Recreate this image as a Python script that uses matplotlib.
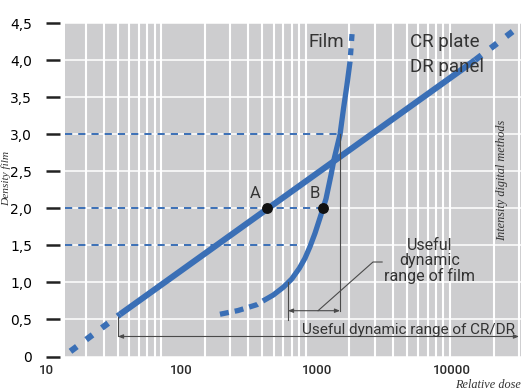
"""Characteristic curves: film versus CR plate / DR panel.

Optical density over relative dose (log scale) for conventional film and
for the digital detectors, with the useful dynamic range of each marked.

Output: ``out.png``.
"""

from __future__ import annotations

import matplotlib

matplotlib.use("Agg")
import matplotlib.pyplot as plt
import numpy as np
from matplotlib.ticker import FixedLocator, LogLocator, NullLocator

# ----- data (relative dose on the labelled axis, density) -----
# CR plate / DR panel: straight in log dose, dotted ends, solid middle
cr_dose = [15, 35, 14900, 32000]
cr_density = [0.07, 0.57, 4.00, 4.46]

# film: dotted toe, solid body, dotted shoulder
film_toe_dose = [192, 261, 361, 400]
film_toe_density = [0.57, 0.62, 0.70, 0.75]
film_dose = [400, 477, 566, 653, 743, 818, 891, 971, 1045, 1114, 1172,
             1276, 1343, 1489, 1580, 1670, 1765]
film_density = [0.75, 0.83, 0.935, 1.046, 1.19, 1.325, 1.482, 1.663, 1.842, 2.00, 2.13,
                2.45, 2.66, 3.00, 3.35, 3.65, 3.98]
film_top_dose = [1826, 1765]
film_top_density = [4.35, 3.98]

# points A (digital) and B (film) at the same density
point_labels = ["A", "B"]
point_dose = [428, 1114]
point_density = [2.0, 2.0]

# dashed density levels and the dose at which each stops
ref_density = [3.0, 2.0, 1.5]
ref_end_dose = [1489, 1114, 780]

# useful dynamic ranges
film_range_dose = [612, 1489]
film_range_density = [1.0, 3.0]
cr_range_dose = [33.7, 31500]

x_ticks = [10, 100, 1000, 10000]
x_tick_labels = ["10", "100", "1000", "10000"]
y_ticks = [0, 0.5, 1.0, 1.5, 2.0, 2.5, 3.0, 3.5, 4.0, 4.5]
y_tick_labels = ["0", "0,5", "1,0", "1,5", "2,0", "2,5", "3,0", "3,5", "4,0", "4,5"]

# ----- style -----
W, H = 531, 391
GRAY = "#cdcdcf"
BLUE = "#3a6fb6"
DARK = "#333333"
THIN = "#4a4a4a"
SANS = ["Roboto", "DejaVu Sans"]
SERIF = ["Liberation Serif", "DejaVu Serif"]
X_EDGE = 13.67  # left edge of the grey field on the dose axis


def rect(left: float, right: float, top: float = 23, bottom: float = 356.5):
    """Axes rectangle in figure fractions from pixel edges."""
    return [left / W, 1 - bottom / H, (right - left) / W, (bottom - top) / H]


def main() -> int:
    fig = plt.figure(figsize=(W / 100, H / 100), dpi=100)

    # background: grey field, white log grid, density ticks
    ax_bg = fig.add_axes(rect(65, 521))
    ax_bg.set_facecolor(GRAY)
    ax_bg.set_xscale("log")
    ax_bg.set_xlim(21.5, 31000)
    ax_bg.set_ylim(0, 4.5)
    ax_bg.xaxis.set_major_locator(LogLocator(base=10, subs=np.arange(1, 10), numticks=60))
    ax_bg.xaxis.set_minor_locator(NullLocator())
    ax_bg.grid(axis="x", color="white", lw=1.5)
    ax_bg.tick_params(axis="x", length=0, labelbottom=False)

    ax_bg.yaxis.set_major_locator(FixedLocator(y_ticks))
    ax_bg.set_yticklabels(y_tick_labels, family=SANS, fontsize=9.5,
                          color="#2b2b2b", fontweight="medium")
    ax_bg.grid(axis="y", color="white", lw=1.1)
    ax_bg.tick_params(axis="y", length=10, width=1.8, color="#222222", pad=10)
    for lab in ax_bg.get_yticklabels():
        lab.set_horizontalalignment("center")
    ticks = ax_bg.yaxis.get_major_ticks()
    for t in (ticks[0], ticks[-1]):
        t.tick1line.set_visible(False)
        t.gridline.set_visible(False)
    for sp in ax_bg.spines.values():
        sp.set_visible(False)
    ax_bg.spines["left"].set_position(("outward", 3.6))

    # foreground: curves and dose labels
    ax = fig.add_axes(rect(40, 521))
    ax.set_facecolor("none")
    ax.set_xscale("log")
    ax.set_xlim(8.92, 32580)
    ax.set_ylim(0, 4.5)
    ax.xaxis.set_major_locator(FixedLocator(x_ticks))
    ax.xaxis.set_minor_locator(NullLocator())
    ax.set_xticklabels(x_tick_labels, family=SANS, fontsize=9.5,
                       color="#2b2b2b", fontweight="medium")
    ax.tick_params(axis="x", length=0, pad=5.5)
    ax.set_yticks([])
    for sp in ax.spines.values():
        sp.set_visible(False)

    # dashed density levels
    for d, xe in zip(ref_density, ref_end_dose):
        ax.plot([X_EDGE, xe], [d, d], color=BLUE, lw=1.4, dashes=(3.7, 3.1))

    # CR / DR line
    ax.plot(cr_dose[1:3], cr_density[1:3], color=BLUE, lw=4.4, solid_capstyle="butt")
    for sl in (slice(0, 2), slice(2, 4)):
        ax.plot(cr_dose[sl], cr_density[sl], color=BLUE, lw=4.4,
                dashes=(1.3, 1.9), dash_capstyle="butt")

    # film curve
    ax.plot(film_dose, film_density, color=BLUE, lw=3.8, solid_capstyle="butt",
            solid_joinstyle="round")
    ax.plot(film_toe_dose, film_toe_density, color=BLUE, lw=3.8,
            dashes=(1.7, 1.15), dash_capstyle="butt")
    ax.plot(film_top_dose, film_top_density, color=BLUE, lw=3.8,
            dashes=(1.3, 1.4), dash_capstyle="butt")

    # points A and B
    ax.plot(point_dose, point_density, "o", color="#111111", ms=6.8, zorder=5)
    for lab, x, y, dx in zip(point_labels, point_dose, point_density, (-8.6, -6.1)):
        ax.annotate(lab, (x, y), xytext=(dx, 10.8), textcoords="offset points",
                    ha="center", va="center", family=SANS, fontsize=12, color=DARK)

    # film range bracket
    ax.plot([film_range_dose[0]] * 2, [0.49, film_range_density[0]], color=THIN, lw=0.8)
    ax.plot([film_range_dose[1]] * 2, [0.618, film_range_density[1]], color=THIN, lw=0.8)
    ax.annotate("", xy=(film_range_dose[1], 0.618), xytext=(film_range_dose[0], 0.618),
                arrowprops=dict(arrowstyle="<|-|>,head_length=0.3,head_width=0.12",
                                color=THIN, lw=0.8, shrinkA=0, shrinkB=0))
    ax.plot([1023, 2610, 3050], [0.618, 1.275, 1.275], color=THIN, lw=0.8)
    ax.text(6900, 1.29, "Useful\ndynamic\nrange of film", ha="center", va="center",
            multialignment="center", family=SANS, fontsize=11.5, color=DARK,
            linespacing=1.0)

    # CR / DR range bracket
    ax.plot([cr_range_dose[0]] * 2, [0.53, 0.27], color=THIN, lw=0.8)
    ax.annotate("", xy=(cr_range_dose[1], 0.27), xytext=(cr_range_dose[0], 0.27),
                arrowprops=dict(arrowstyle="<|-|>,head_length=0.3,head_width=0.12",
                                color=THIN, lw=0.8, shrinkA=0, shrinkB=0))
    ax.text(29400, 0.30, "Useful dynamic range of CR/DR", ha="right", va="baseline",
            family=SANS, fontsize=11, color=DARK)

    # curve names
    ax.text(1592, 4.18, "Film", ha="right", va="baseline", family=SANS,
            fontsize=13.5, color=DARK, zorder=6)
    ax.text(4910, 4.17, "CR plate", ha="left", va="baseline", family=SANS,
            fontsize=13.5, color=DARK, zorder=6)
    ax.text(4910, 3.84, "DR panel", ha="left", va="baseline", family=SANS,
            fontsize=13.5, color=DARK, zorder=6)

    # axis titles
    fig.text(6 / W, 1 - 178 / H, "Density film", rotation=90, ha="center", va="center",
             family=SERIF, style="italic", fontsize=8.2, color=DARK)
    fig.text(502 / W, 1 - 180 / H, "Intensity digital methods", rotation=90,
             ha="center", va="center", family=SERIF, style="italic",
             fontsize=8.8, color=DARK)
    fig.text(521 / W, 1 - 385.5 / H, "Relative dose", ha="right", va="center",
             family=SERIF, style="italic", fontsize=8.8, color=DARK)

    fig.savefig("out.png", dpi=100, facecolor="white")
    return 0


if __name__ == "__main__":
    raise SystemExit(main())
